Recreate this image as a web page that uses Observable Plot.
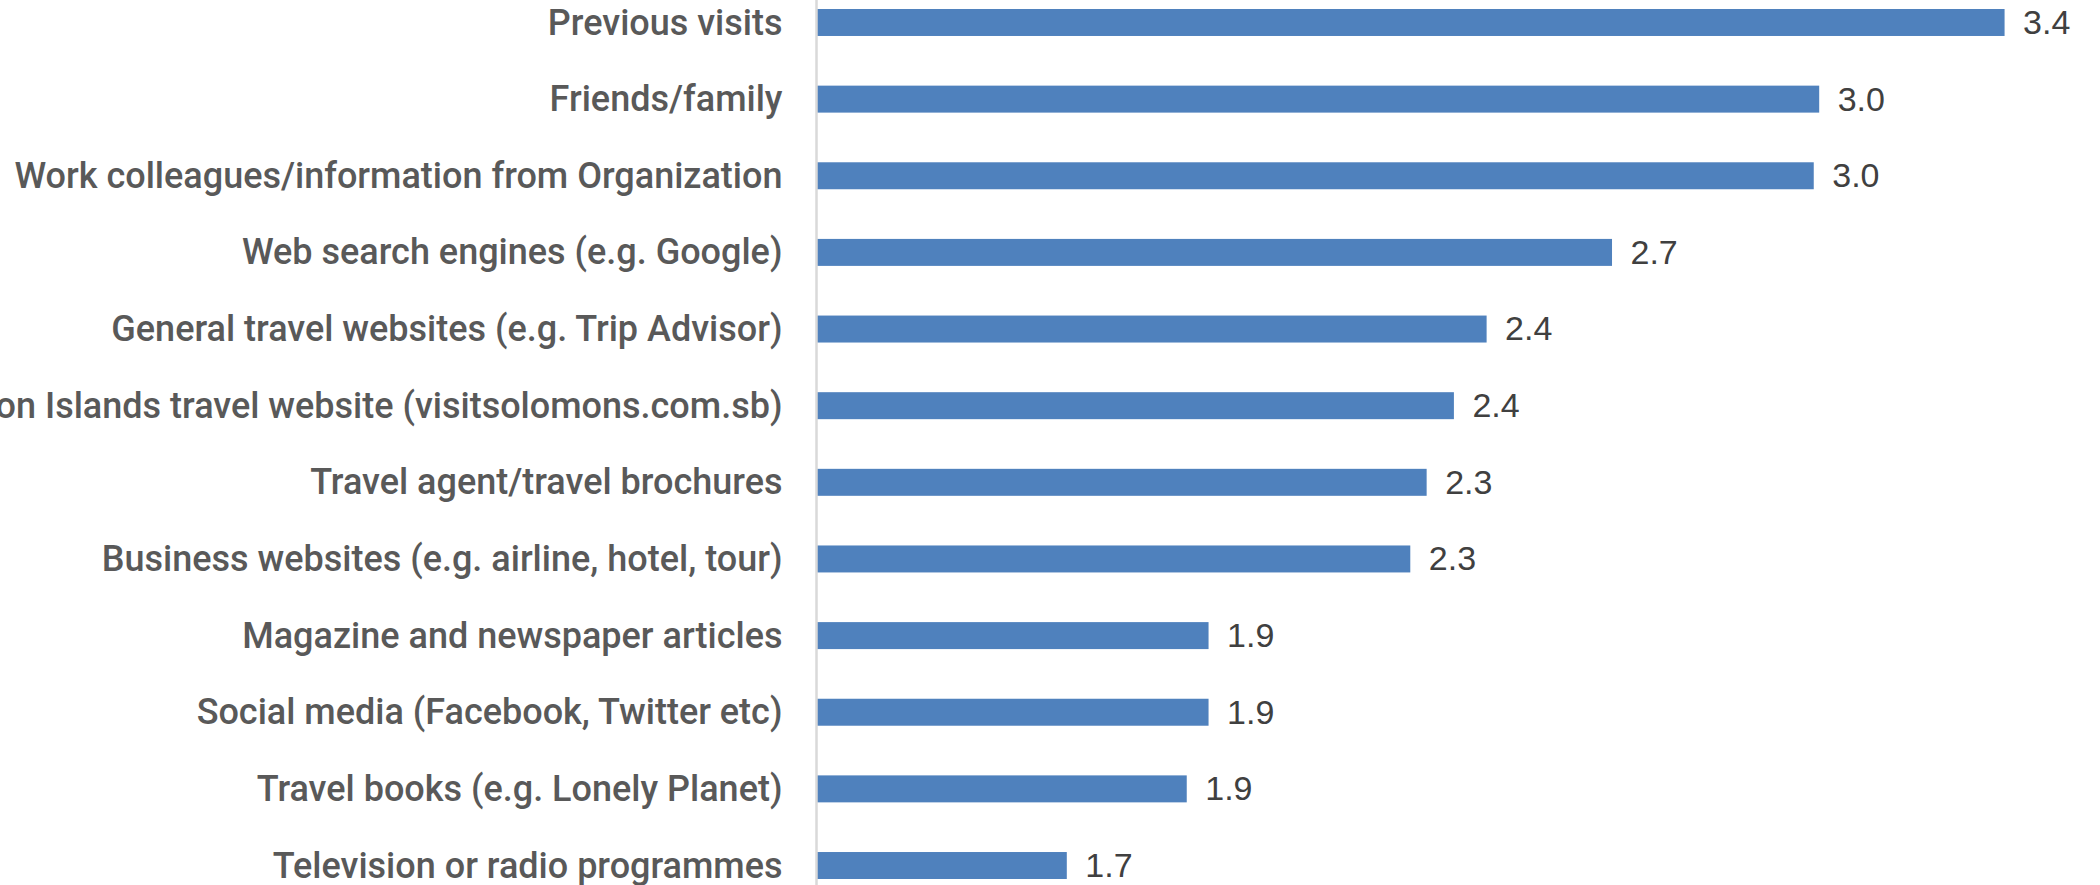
<!DOCTYPE html>
<html>
<head>
<meta charset="utf-8">
<script src="https://cdn.jsdelivr.net/npm/d3@7"></script>
<script src="https://cdn.jsdelivr.net/npm/@observablehq/plot@0.6"></script>
<style>
  html, body { margin: 0; padding: 0; background: #ffffff; }
  #chart svg { display: block; }
</style>
</head>
<body>
<div id="chart"></div>
<script>
// Categories, top to bottom
const categories = [
  "Previous visits",
  "Friends/family",
  "Work colleagues/information from Organization",
  "Web search engines (e.g. Google)",
  "General travel websites (e.g. Trip Advisor)",
  "Solomon Islands travel website (visitsolomons.com.sb)",
  "Travel agent/travel brochures",
  "Business websites (e.g. airline, hotel, tour)",
  "Magazine and newspaper articles",
  "Social media (Facebook, Twitter etc)",
  "Travel books (e.g. Lonely Planet)",
  "Television or radio programmes"
];
// Mean scores (labels shown to one decimal)
const values = [3.38, 3.04, 3.03, 2.66, 2.43, 2.37, 2.32, 2.29, 1.92, 1.92, 1.88, 1.66];
// Value axis range
const axisMin = 1.2;
const axisMax = 3.5;

const data = categories.map((c, i) => ({category: c, value: values[i]}));

const chart = Plot.plot({
  width: 2100,
  height: 885,
  marginLeft: 816,
  marginRight: 30,
  marginTop: 9,
  marginBottom: 6,
  style: {
    fontFamily: "Roboto, 'Liberation Sans', Arial, sans-serif",
    fontSize: "36px",
    fontWeight: 500,
    color: "#595959",
    background: "#ffffff",
    overflow: "hidden"
  },
  x: {domain: [axisMin, axisMax], axis: null},
  y: {domain: categories, paddingInner: 0.648, paddingOuter: 0, round: false, label: null},
  marks: [
    Plot.barX(data, {
      x1: () => axisMin,
      x2: "value",
      y: "category",
      fill: "#4f81bd"
    }),
    Plot.ruleX([axisMin], {stroke: "#d9d9d9", strokeWidth: 2.5, insetTop: -9, insetBottom: -6}),
    Plot.axisY({tickSize: 0, tickPadding: 34, label: null, fill: "#595959"}),
    Plot.text(data, {
      x: "value",
      y: "category",
      text: d => d.value.toFixed(1),
      textAnchor: "start",
      dx: 18,
      fontSize: 34,
      fontFamily: "'Liberation Sans', Arial, sans-serif",
      fill: "#404040"
    })
  ]
});
document.getElementById("chart").appendChild(chart);
</script>
</body>
</html>
